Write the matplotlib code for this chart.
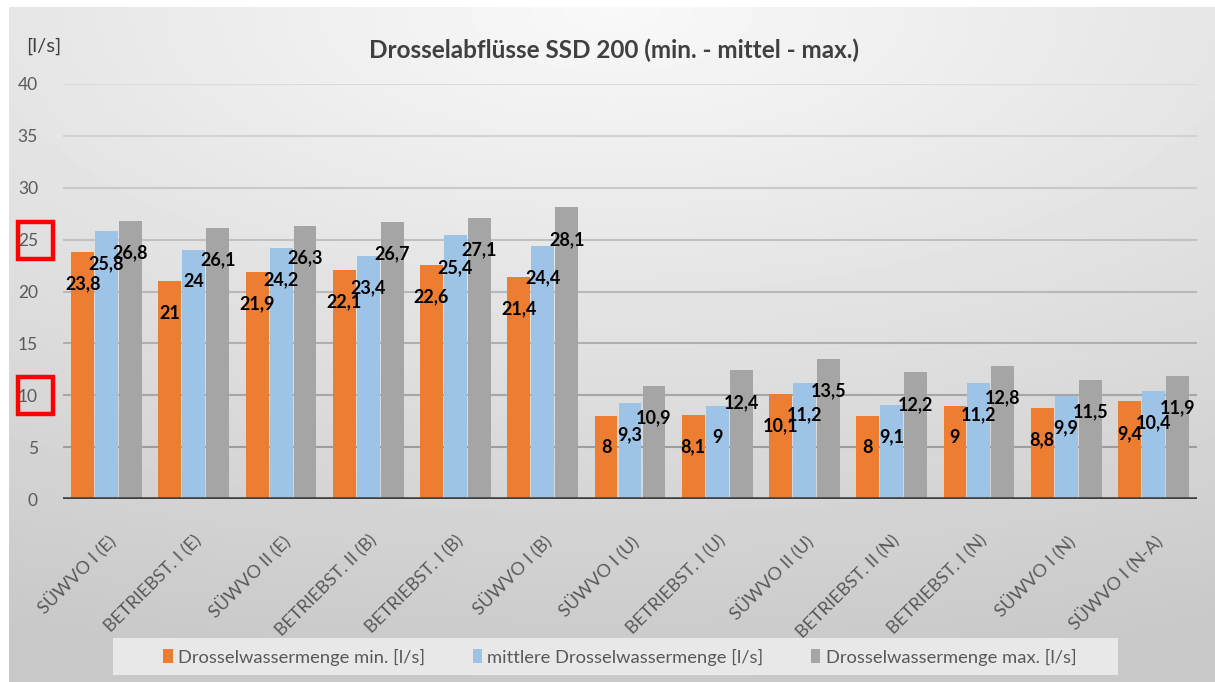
import numpy as np
import matplotlib
matplotlib.use("Agg")
import matplotlib.pyplot as plt
from matplotlib.patches import Rectangle

plt.rcParams['font.family'] = ['Lato', 'DejaVu Sans']

# ---------------- data ----------------
categories = ["SÜWVO I (E)", "BETRIEBST. I (E)", "SÜWVO II (E)", "BETRIEBST. II (B)",
              "BETRIEBST. I (B)", "SÜWVO I (B)", "SÜWVO I (U)", "BETRIEBST. I (U)",
              "SÜWVO II (U)", "BETRIEBST. II (N)", "BETRIEBST. I (N)", "SÜWVO I (N)",
              "SÜWVO I (N-A)"]
q_min = [23.8, 21, 21.9, 22.1, 22.6, 21.4, 8, 8.1, 10.1, 8, 9, 8.8, 9.4]
q_mid = [25.8, 24, 24.2, 23.4, 25.4, 24.4, 9.3, 9, 11.2, 9.1, 11.2, 9.9, 10.4]
q_max = [26.8, 26.1, 26.3, 26.7, 27.1, 28.1, 10.9, 12.4, 13.5, 12.2, 12.8, 11.5, 11.9]
series_names = ["Drosselwassermenge min. [l/s]", "mittlere Drosselwassermenge [l/s]",
                "Drosselwassermenge max. [l/s]"]
yticks = [0, 5, 10, 15, 20, 25, 30, 35, 40]
marked_ticks = [25, 10]

colors = ["#ED7D31", "#9DC3E6", "#A5A5A5"]
W, H = 1215, 682

fig = plt.figure(figsize=(W / 100, H / 100), dpi=100)
fig.patch.set_facecolor("white")

# ---- background gradient (chart area) ----
bg = fig.add_axes([9 / W, 0, 1 - 9 / W, 1 - 7 / H], zorder=-10)
gx, gy = np.meshgrid(np.linspace(0, 1, 300), np.linspace(0, 1, 200))
d = np.sqrt(((gx - 0.5) * 1.0) ** 2 + (gy * 1.25) ** 2)
shade = 0.975 - 0.19 * np.clip(d / 1.25, 0, 1)
bg.imshow(shade, cmap="gray", vmin=0, vmax=1, aspect="auto",
          extent=[0, 1, 0, 1], origin="upper")
bg.set_axis_off()

# ---- main axes ----
ax = fig.add_axes([63 / W, 1 - 499 / H, (1197 - 63) / W, (499 - 84) / H])
ax.patch.set_alpha(0)
x = np.arange(len(categories))
bw = 0.262
step = 0.275
for i, (vals, c, name) in enumerate(zip([q_min, q_mid, q_max], colors, series_names)):
    pos = x + (i - 1) * step
    bars = ax.bar(pos, vals, width=bw, color=c, label=name, zorder=3)
    for p, v in zip(pos, vals):
        ax.annotate(f"{v:g}".replace(".", ","), (p, v), xytext=(0, -23),
                    textcoords="offset points", ha="center", va="center",
                    fontsize=13, fontweight="bold", color="black", zorder=5)

ax.set_xlim(-0.5, len(categories) - 0.5)
ax.set_ylim(0, 40)
ax.set_yticks(yticks)
for t in yticks[1:]:
    shade_c = 0.86 - 0.28 * (1 - t / 40)
    ax.axhline(t, color=str(shade_c), lw=1.5, zorder=1)
ax.axhline(0, color="#404040", lw=2.6, zorder=4)

for s in ax.spines.values():
    s.set_visible(False)
ax.tick_params(axis="both", length=0, colors="#595959")
ax.tick_params(axis="y", labelsize=12.5, pad=18)
ax.set_xticks(x)
ax.set_xticklabels(categories, rotation=45, ha="right", rotation_mode="anchor",
                   fontsize=13, color="#595959")
ax.tick_params(axis="x", pad=24)

# red boxes around marked ticks
for t in marked_ticks:
    yc = 499 - t * (499 - 84) / 40
    fig.patches.append(Rectangle((18 / W, 1 - (yc + 19) / H), 35 / W, 37 / H,
                                 transform=fig.transFigure, fill=False,
                                 edgecolor="#FF0000", lw=3.2, zorder=20))

# title and unit
fig.text(614 / W, 1 - 50 / H, "Drosselabflüsse SSD 200 (min. - mittel - max.)",
         ha="center", va="center", fontsize=17.5, fontweight="bold", color="#404040")
fig.text(26 / W, 1 - 46 / H, "[l/s]", ha="left", va="center", fontsize=14.5, color="#404040")

# legend
fig.patches.append(Rectangle((113 / W, 1 - 675 / H), (1118 - 113) / W, 37 / H,
                             transform=fig.transFigure, facecolor="#e8e8e8",
                             edgecolor="none", zorder=1))
leg = fig.legend(loc="center", bbox_to_anchor=(620 / W, 1 - 657 / H), ncol=3,
                 frameon=False, fontsize=13.2, handlelength=0.5, handleheight=0.85,
                 handletextpad=0.3, columnspacing=2.6)
for txt in leg.get_texts():
    txt.set_color("#595959")

fig.savefig("out.png", dpi=100)
